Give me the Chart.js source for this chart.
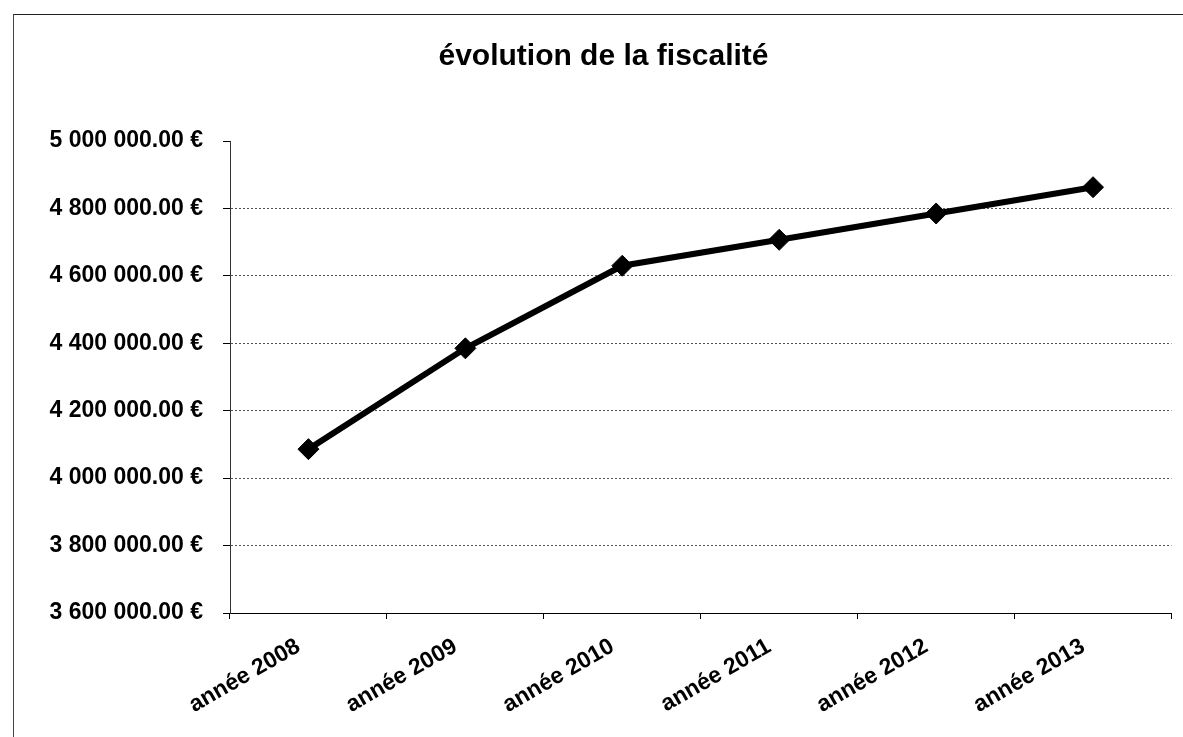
<!DOCTYPE html>
<html>
<head>
<meta charset="utf-8">
<script src="https://cdn.jsdelivr.net/npm/chart.js@4/dist/chart.umd.min.js"></script>
<style>
  html, body { margin: 0; padding: 0; background: #fff; }
  #wrap { position: relative; width: 1183px; height: 737px; overflow: hidden; }
  #frame { position: absolute; left: 13px; top: 14px; width: 1300px; height: 900px;
           border-top: 1px solid #222; border-left: 1px solid #444; pointer-events: none; }
  canvas { position: absolute; left: 0; top: 0; }
</style>
</head>
<body>
<div id="wrap">
  <canvas id="c" width="1183" height="737"></canvas>
  <div id="frame"></div>
</div>
<script>
const chartTitle = 'évolution de la fiscalité';
const categories = ['année 2008', 'année 2009', 'année 2010', 'année 2011', 'année 2012', 'année 2013'];
const fiscalite = [4086000, 4385000, 4630000, 4707000, 4785000, 4863000];
const yTickValues = [3600000, 3800000, 4000000, 4200000, 4400000, 4600000, 4800000, 5000000];

function fmtEuro(v) {
  return v.toFixed(2).replace(/\B(?=(\d{3})+(?!\d))/g, ' ') + ' €';
}

const FONT = '"Liberation Sans", Arial, sans-serif';

new Chart(document.getElementById('c'), {
  type: 'line',
  data: {
    labels: categories,
    datasets: [{
      data: fiscalite,
      borderColor: '#000',
      borderWidth: 6,
      backgroundColor: '#000',
      pointStyle: 'rectRot',
      pointRadius: 10.5,
      pointBorderWidth: 1,
      pointBackgroundColor: '#000',
      pointBorderColor: '#000',
      tension: 0,
      fill: false
    }]
  },
  options: {
    responsive: false,
    animation: false,
    devicePixelRatio: 1,
    layout: { padding: { left: 30, right: 6, top: 0, bottom: 0 } },
    plugins: {
      legend: { display: false },
      tooltip: { enabled: false },
      title: {
        display: true,
        text: chartTitle,
        color: '#000',
        font: { family: FONT, size: 30, weight: 'bold' },
        padding: { top: 39, bottom: 66 }
      }
    },
    scales: {
      x: {
        type: 'category',
        offset: true,
        grid: {
          offset: true,
          display: true,
          drawOnChartArea: false,
          drawTicks: true,
          tickLength: 6,
          tickColor: '#000',
          color: '#000'
        },
        border: { display: true, color: '#000', width: 1 },
        ticks: {
          color: '#000',
          font: { family: FONT, size: 23, weight: 'bold' },
          minRotation: 30,
          maxRotation: 30,
          autoSkip: false,
          padding: 14,
          labelOffset: -10
        },
        afterFit: function(scale) { scale.height = 124; }
      },
      y: {
        min: 3600000,
        max: 5000000,
        afterBuildTicks: function(scale) {
          scale.ticks = yTickValues.map(v => ({ value: v }));
        },
        grid: {
          display: true,
          drawTicks: true,
          tickLength: 7,
          tickColor: '#000',
          tickBorderDash: [],
          color: function(ctx) {
            if (ctx.tick && ctx.tick.value === 5000000) return 'rgba(0,0,0,0)';
            return '#555';
          },
          lineWidth: 1
        },
        border: { display: true, color: '#333', width: 1, dash: [2, 2] },
        ticks: {
          color: '#000',
          font: { family: FONT, size: 23, weight: 'bold' },
          padding: 20,
          callback: function(v) { return fmtEuro(v); }
        },
        afterFit: function(scale) { scale.width = 200; }
      }
    }
  }
});
</script>
</body>
</html>
